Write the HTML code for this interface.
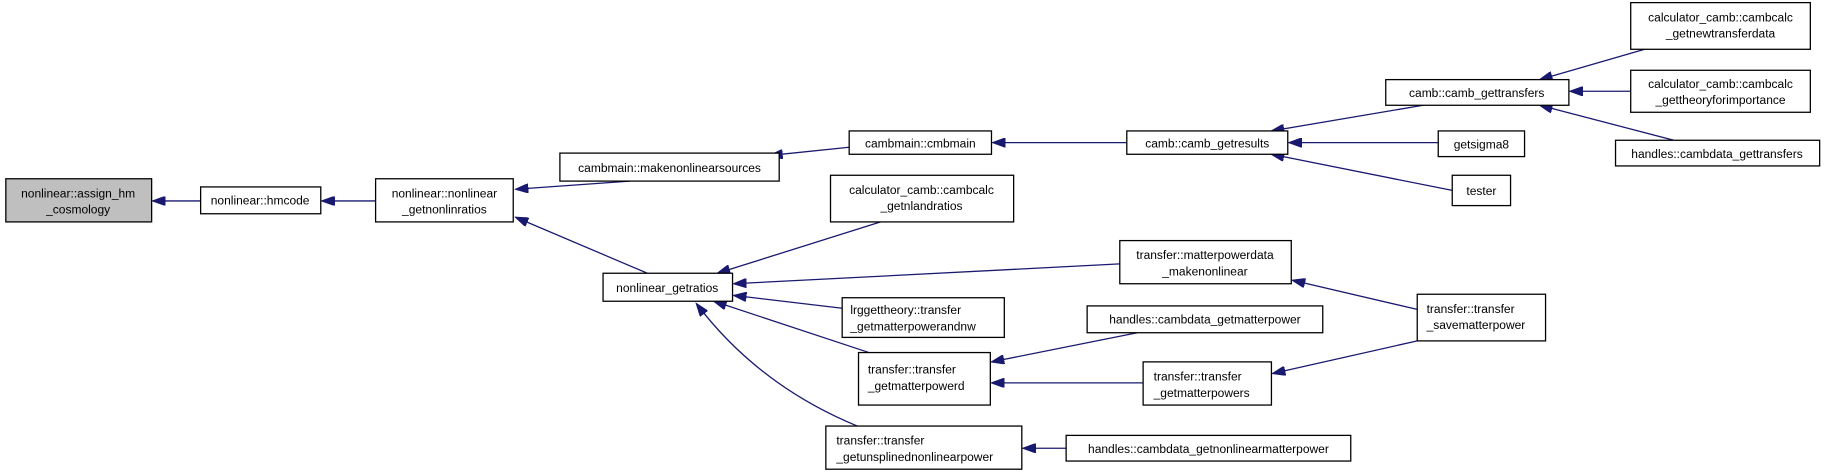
<!DOCTYPE html>
<html><head><meta charset="utf-8"><style>
html,body{margin:0;padding:0;background:#fff;}
svg{display:block}
text{font-family:"Liberation Sans",sans-serif;font-size:10.3px;fill:#000;text-anchor:middle}
text.l{text-anchor:start}
rect{fill:#fff;stroke:#000;stroke-width:1.1}
.e{stroke:#191970;stroke-width:1.1;fill:none;marker-end:url(#a)}
</style></head><body>
<svg width="1829" height="473" viewBox="0 0 1568 405" xmlns="http://www.w3.org/2000/svg">
<defs><marker id="a" markerWidth="12" markerHeight="8" refX="11" refY="4" orient="auto" markerUnits="userSpaceOnUse"><path d="M0,0 L11,4 L0,8 z" fill="#191970" stroke="#191970"/></marker></defs>
<line class="e" x1="172" y1="172" x2="131" y2="172"/>
<line class="e" x1="322" y1="172" x2="276" y2="172"/>
<line class="e" x1="540" y1="155" x2="442" y2="162"/>
<line class="e" x1="555" y1="234" x2="442" y2="186"/>
<line class="e" x1="728" y1="126" x2="660" y2="133"/>
<line class="e" x1="966" y1="122" x2="851" y2="122"/>
<line class="e" x1="755" y1="190" x2="615" y2="234"/>
<line class="e" x1="960" y1="226" x2="629" y2="243"/>
<line class="e" x1="722" y1="264" x2="629" y2="253"/>
<line class="e" x1="745" y1="302" x2="612" y2="258"/>
<path class="e" d="M735,365 Q650,330 597,260"/>
<line class="e" x1="1220" y1="90" x2="1090" y2="112"/>
<line class="e" x1="1233" y1="122" x2="1105" y2="122"/>
<line class="e" x1="1245" y1="163" x2="1090" y2="132"/>
<line class="e" x1="1410" y1="42" x2="1320" y2="68"/>
<line class="e" x1="1398" y1="78" x2="1346" y2="78"/>
<line class="e" x1="1435" y1="120" x2="1320" y2="90"/>
<line class="e" x1="1215" y1="265" x2="1108" y2="240"/>
<line class="e" x1="1215" y1="292" x2="1091" y2="320"/>
<line class="e" x1="975" y1="285" x2="850" y2="310"/>
<line class="e" x1="980" y1="328" x2="850" y2="328"/>
<line class="e" x1="914" y1="384" x2="877" y2="384"/>
<rect x="5" y="153" width="125" height="37" style="fill:#bfbfbf"/>
<text x="67" y="169">nonlinear::assign_hm</text><text x="67" y="183">_cosmology</text>
<rect x="172" y="160" width="103" height="23"/><text x="223" y="175">nonlinear::hmcode</text>
<rect x="322" y="153" width="118" height="37"/>
<text x="381" y="169">nonlinear::nonlinear</text><text x="381" y="183">_getnonlinratios</text>
<rect x="480" y="131" width="188" height="24"/><text x="574" y="147">cambmain::makenonlinearsources</text>
<rect x="517" y="234" width="111" height="24"/><text x="572" y="250">nonlinear_getratios</text>
<rect x="728" y="112" width="122" height="20"/><text x="789" y="126">cambmain::cmbmain</text>
<rect x="712" y="150" width="157" height="40"/>
<text x="790" y="166">calculator_camb::cambcalc</text><text x="790" y="180">_getnlandratios</text>
<rect x="960" y="206" width="147" height="37"/>
<text x="1033" y="222">transfer::matterpowerdata</text><text x="1033" y="236">_makenonlinear</text>
<rect x="722" y="255" width="139" height="34"/>
<text class="l" x="729" y="269">lrggettheory::transfer</text><text class="l" x="729" y="283">_getmatterpowerandnw</text>
<rect x="932" y="262" width="202" height="23"/><text x="1033" y="277">handles::cambdata_getmatterpower</text>
<rect x="736" y="302" width="113" height="45"/>
<text class="l" x="744" y="320">transfer::transfer</text><text class="l" x="744" y="334">_getmatterpowerd</text>
<rect x="980" y="310" width="110" height="37"/>
<text class="l" x="989" y="326">transfer::transfer</text><text class="l" x="989" y="340">_getmatterpowers</text>
<rect x="708" y="365" width="168" height="37"/>
<text class="l" x="717" y="381">transfer::transfer</text>
<text class="l" x="717" y="395">_getunsplinednonlinearpower</text>
<rect x="914" y="373" width="244" height="22"/><text x="1036" y="388">handles::cambdata_getnonlinearmatterpower</text>
<rect x="966" y="112" width="138" height="20"/><text x="1035" y="126">camb::camb_getresults</text>
<rect x="1188" y="68" width="157" height="22"/><text x="1266" y="83">camb::camb_gettransfers</text>
<rect x="1233" y="112" width="74" height="22"/><text x="1270" y="127">getsigma8</text>
<rect x="1245" y="150" width="50" height="26"/><text x="1270" y="167">tester</text>
<rect x="1398" y="2" width="154" height="40"/>
<text x="1475" y="18">calculator_camb::cambcalc</text><text x="1475" y="32">_getnewtransferdata</text>
<rect x="1398" y="60" width="154" height="36"/>
<text x="1475" y="75">calculator_camb::cambcalc</text><text x="1475" y="89">_gettheoryforimportance</text>
<rect x="1385" y="120" width="175" height="22"/><text x="1472" y="135">handles::cambdata_gettransfers</text>
<rect x="1215" y="252" width="110" height="40"/>
<text class="l" x="1223" y="268">transfer::transfer</text><text class="l" x="1223" y="282">_savematterpower</text>
</svg>
</body></html>
